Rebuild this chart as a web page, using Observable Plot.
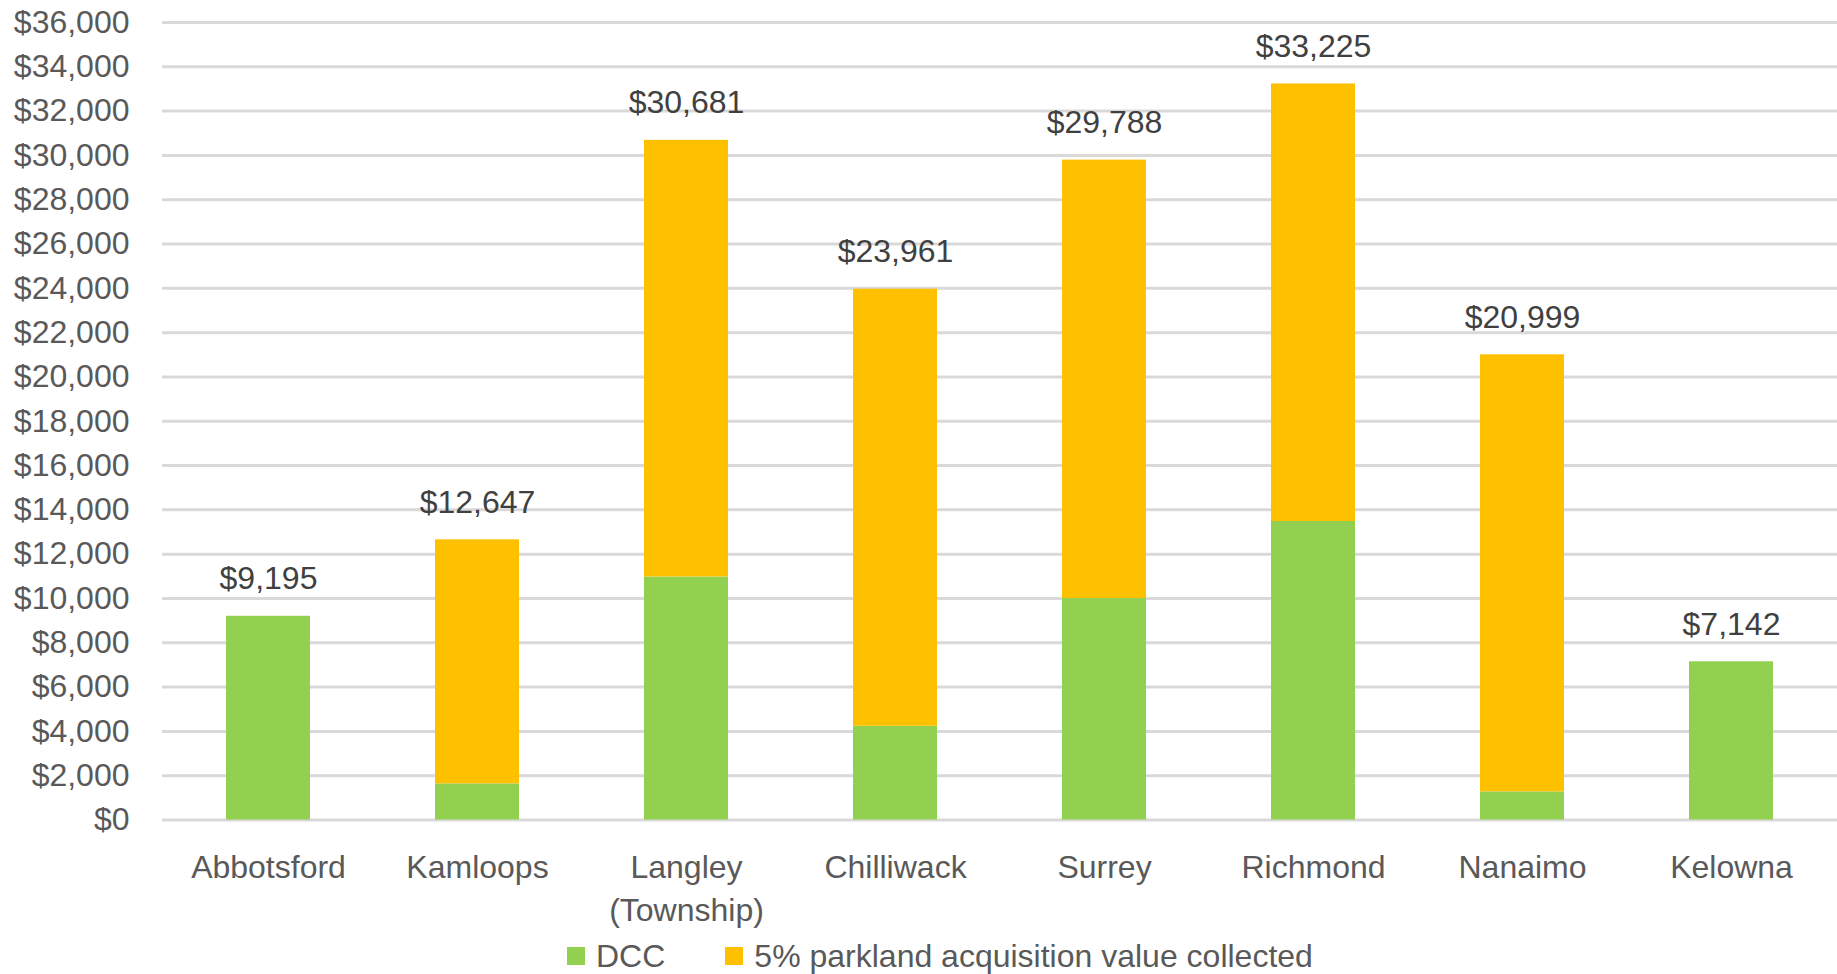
<!DOCTYPE html>
<html>
<head>
<meta charset="utf-8">
<script src="https://cdn.jsdelivr.net/npm/d3@7"></script>
<script src="https://cdn.jsdelivr.net/npm/@observablehq/plot@0.6"></script>
<style>
  html, body { margin: 0; padding: 0; background: #ffffff; }
  body { font-family: "Liberation Sans", Arial, sans-serif; width: 1837px; overflow: hidden; }
  #chart svg { display: block; }
  #legend { position: relative; height: 39px; width: 1837px; }
  #legend .row { position: absolute; top: 2px; left: 567px; height: 38px; display: flex; align-items: center; gap: 60px; }
  #legend .item { display: flex; align-items: center; font-size: 32px; color: #595959; white-space: nowrap; }
  #legend .sw { width: 18px; height: 18px; margin-right: 11px; }
</style>
</head>
<body>
<div id="chart"></div>
<div id="legend"></div>
<script>
// ---- data ----
const cities = ["Abbotsford", "Kamloops", "Langley\n(Township)", "Chilliwack", "Surrey", "Richmond", "Nanaimo", "Kelowna"];
const dccValues = [9195, 1630, 10970, 4230, 10000, 13475, 1270, 7142];
const parklandValues = [0, 11017, 19711, 19731, 19788, 19750, 19729, 0];
const totalLabels = [9195, 12647, 30681, 23961, 29788, 33225, 20999, 7142];
const seriesNames = ["DCC", "5% parkland acquisition value collected"];
const seriesColors = ["#92D050", "#FFC000"];
const yTicks = [0, 2000, 4000, 6000, 8000, 10000, 12000, 14000, 16000, 18000, 20000, 22000, 24000, 26000, 28000, 30000, 32000, 34000, 36000];

// ---- tables built from the arrays ----
const rows = [];
cities.forEach((c, i) => {
  rows.push({city: c, series: seriesNames[0], value: dccValues[i]});
  rows.push({city: c, series: seriesNames[1], value: parklandValues[i]});
});
const totals = cities.map((c, i) => ({city: c, total: totalLabels[i]}));
const fmt = d => "$" + d3.format(",")(d);

const chart = Plot.plot({
  width: 1837,
  height: 935,
  marginLeft: 162,
  marginRight: 0,
  marginTop: 22,
  marginBottom: 115.5,
  style: {fontFamily: "Liberation Sans, Arial, sans-serif", fontSize: "32px", color: "#595959", background: "#ffffff"},
  x: {type: "band", domain: cities, paddingInner: 0.6, paddingOuter: 0.3, label: null},
  y: {domain: [0, 36000], label: null},
  color: {domain: seriesNames, range: seriesColors},
  marks: [
    Plot.ruleY(yTicks, {stroke: "#d9d9d9", strokeWidth: 3}),
    Plot.barY(rows, {x: "city", y: "value", fill: "series"}),
    Plot.text(totals, {x: "city", y: "total", text: d => fmt(d.total), lineAnchor: "bottom", dy: -27, fill: "#404040"}),
    Plot.axisY({ticks: yTicks, tickFormat: fmt, tickSize: 0, tickPadding: 33, label: null}),
    Plot.axisX({tickSize: 0, tickPadding: 27, lineHeight: 1.35, label: null})
  ]
});
document.getElementById("chart").appendChild(chart);

// ---- legend ----
const legend = document.getElementById("legend");
const row = document.createElement("div");
row.className = "row";
seriesNames.forEach((name, i) => {
  const item = document.createElement("div");
  item.className = "item";
  const sw = document.createElement("span");
  sw.className = "sw";
  sw.style.background = seriesColors[i];
  const label = document.createElement("span");
  label.textContent = name;
  item.appendChild(sw);
  item.appendChild(label);
  row.appendChild(item);
});
legend.appendChild(row);
</script>
</body>
</html>
